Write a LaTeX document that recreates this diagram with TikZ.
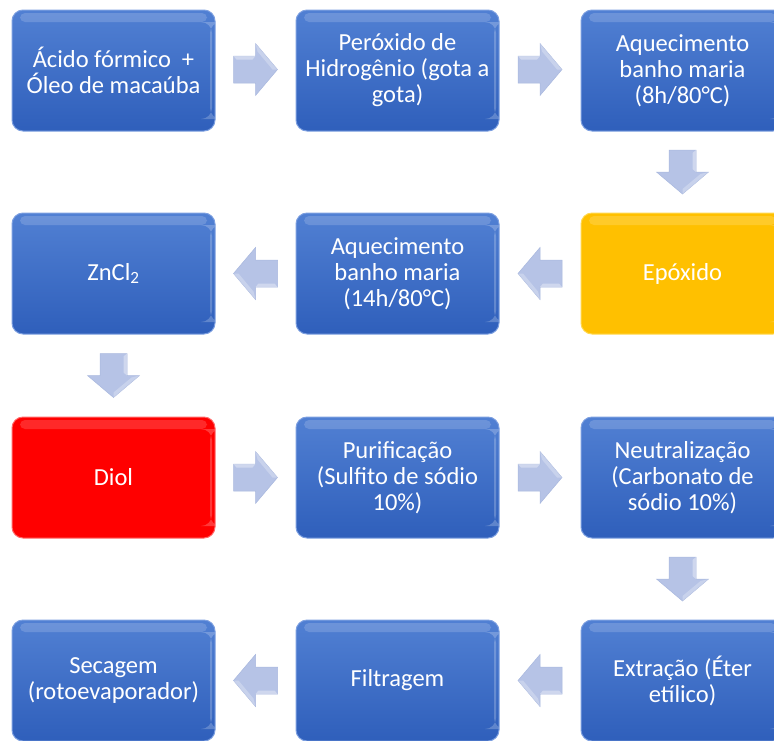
\documentclass[tikz,border=0pt]{standalone}
\usepackage{fontspec}
\setmainfont{Carlito}
\usetikzlibrary{calc}
\definecolor{bluetop}{HTML}{5180D3}
\definecolor{bluebot}{HTML}{2F5FBB}
\definecolor{blueedge}{HTML}{7C9FE0}
\definecolor{yel}{HTML}{FFC000}
\definecolor{yeledge}{HTML}{FFD850}
\definecolor{redc}{HTML}{FF0000}
\definecolor{rededge}{HTML}{FF6A6A}
\definecolor{arrfill}{HTML}{B6C3E6}
\definecolor{arredge}{HTML}{A9B8DE}
\tikzset{
  x=1pt,y=1pt,
  procbox/.style={rectangle, rounded corners=11pt, minimum width=203pt, minimum height=121pt,
    inner sep=0pt, align=center, text=white, line width=1pt,
    font=\fontsize{24.5}{26}\selectfont,
    path picture={
      \fill[white,opacity=0.16,rounded corners=5pt]
        ([xshift=8pt,yshift=-3pt]path picture bounding box.north west) rectangle
        ([xshift=-8pt,yshift=-12pt]path picture bounding box.north east);
      \fill[white,opacity=0.22]
        ([xshift=-5pt,yshift=-12pt]path picture bounding box.north east) rectangle
        ([xshift=-3pt,yshift=12pt]path picture bounding box.south east);
    }},
  bluebox/.style={procbox, top color=bluetop, bottom color=bluebot, draw=blueedge},
  yelbox/.style={procbox, fill=yel, draw=yeledge},
  redbox/.style={procbox, fill=redc, draw=rededge},
  arrowshape/.style={fill=arrfill, draw=arredge, line width=0.5pt, line join=miter},
  blockarr/.pic={
    \path[arrowshape] (-22,13.5) -- (0,13.5) -- (0,26) -- (22,0) -- (0,-26) -- (0,-13.5)
       -- (-22,-13.5) -- cycle;
    \fill[white,opacity=0.35] (-22,13.5) -- (0,13.5) -- (-3,10) -- (-19,10) -- cycle;
    \fill[white,opacity=0.25] (0,26) -- (22,0) -- (17,0) -- (2,18) -- cycle;
  },
}
\begin{document}
\begin{tikzpicture}
\useasboundingbox (0,0) rectangle (774,-740);
% boxes
\node[bluebox] (a1) at (113.5,-70.5) {Ácido fórmico\ \ +\\Óleo de macaúba};
\node[bluebox] (a2) at (397.5,-70.5) {Peróxido de\\Hidrogênio (gota a\\gota)};
\node[bluebox] (a3) at (682.5,-70.5) {Aquecimento\\banho maria\\(8h/80°C)};
\node[yelbox]  (b3) at (682.5,-273.5) {Epóxido};
\node[bluebox] (b2) at (397.5,-273.5) {Aquecimento\\banho maria\\(14h/80°C)};
\node[bluebox] (b1) at (113.5,-273.5) {ZnCl\textsubscript{2}};
\node[redbox]  (c1) at (113.5,-477.5) {Diol};
\node[bluebox] (c2) at (397.5,-477.5) {Purificação\\(Sulfito de sódio\\10\%)};
\node[bluebox] (c3) at (682.5,-477.5) {Neutralização\\(Carbonato de\\sódio 10\%)};
\node[bluebox] (d3) at (682.5,-680.5) {Extração (Éter\\etílico)};
\node[bluebox] (d2) at (397.5,-680.5) {Filtragem};
\node[bluebox] (d1) at (113.5,-680.5) {Secagem\\(rotoevaporador)};
% block arrows between boxes
\pic (r1) at ($(a1.east)!0.5!(a2.west)+(0,1)$) {blockarr};
\pic (r2) at ($(a2.east)!0.5!(a3.west)+(0,1)$) {blockarr};
\pic[rotate=-90] (v1) at ($(a3.south)!0.5!(b3.north)$) {blockarr};
\pic[rotate=180] (l1) at ($(b3.west)!0.5!(b2.east)$) {blockarr};
\pic[rotate=180] (l2) at ($(b2.west)!0.5!(b1.east)$) {blockarr};
\pic[rotate=-90] (v2) at ($(b1.south)!0.5!(c1.north)$) {blockarr};
\pic (r3) at ($(c1.east)!0.5!(c2.west)$) {blockarr};
\pic (r4) at ($(c2.east)!0.5!(c3.west)$) {blockarr};
\pic[rotate=-90] (v3) at ($(c3.south)!0.5!(d3.north)$) {blockarr};
\pic[rotate=180] (l3) at ($(d3.west)!0.5!(d2.east)$) {blockarr};
\pic[rotate=180] (l4) at ($(d2.west)!0.5!(d1.east)$) {blockarr};
\end{tikzpicture}
\end{document}
